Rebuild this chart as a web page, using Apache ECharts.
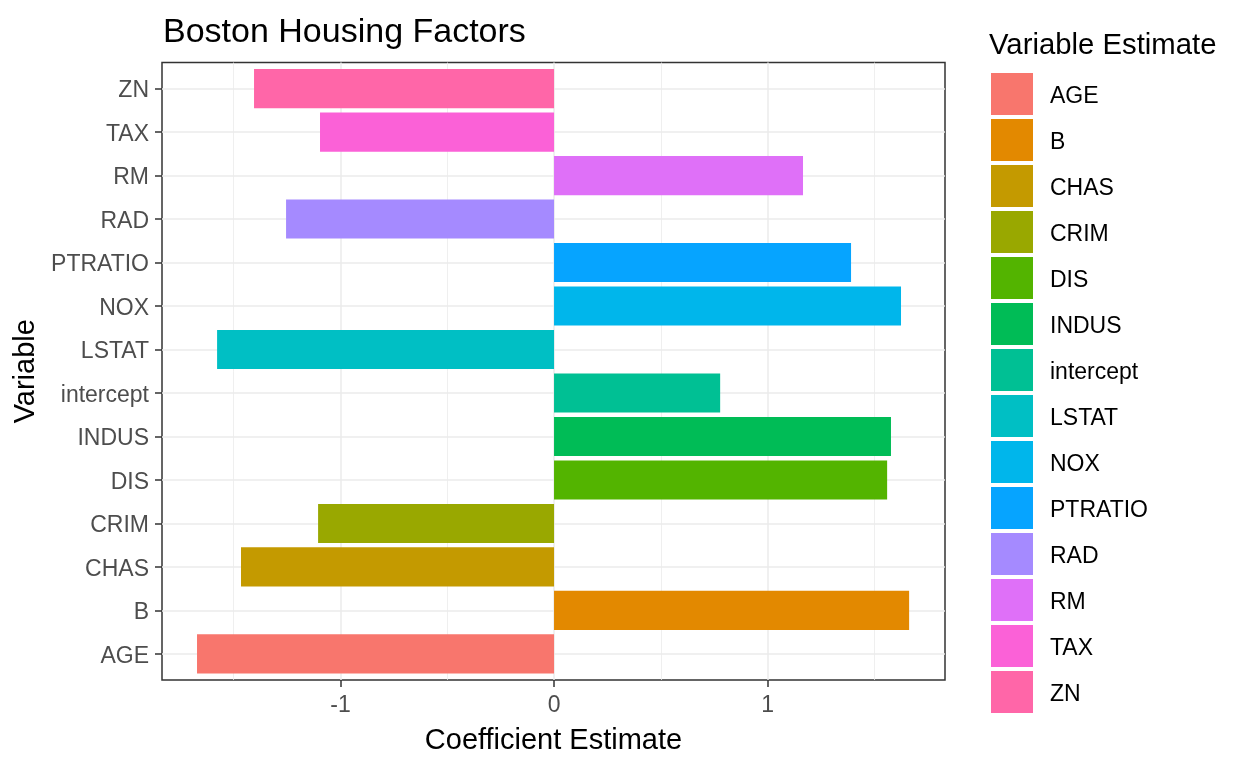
<!DOCTYPE html>
<html>
<head>
<meta charset="utf-8">
<script src="https://cdn.jsdelivr.net/npm/echarts@6/dist/echarts.min.js"></script>
<style>
html,body{margin:0;padding:0;background:#fff;}
#chart{width:1248px;height:768px;}
</style>
</head>
<body>
<div id="chart"></div>
<script>
// Data
const categories = ['AGE','B','CHAS','CRIM','DIS','INDUS','intercept','LSTAT','NOX','PTRATIO','RAD','RM','TAX','ZN'];
const estimates = [-1.672, 1.663, -1.466, -1.105, 1.560, 1.578, 0.778, -1.578, 1.625, 1.391, -1.255, 1.166, -1.096, -1.405];
const xTicks = [-1, 0, 1];
const xMinorTicks = [-1.5, -0.5, 0.5, 1.5];
const palette = ['#F8766D','#E38900','#C49A00','#99A800','#53B400','#00BC56','#00C094','#00BFC4','#00B6EB','#06A4FF','#A58AFF','#DF70F8','#FB61D7','#FF66A8'];

const xMin = -1.836, xMax = 1.831;
const FONT = '"Liberation Sans", Arial, sans-serif';

// panel geometry
const panelTop = 62.5, panelBottomPx = 680, panelLeft = 162, panelRight = 945;
const unit = (panelBottomPx - panelTop) / (categories.length + 0.2);
const inset = 0.1 * unit;

const catIdx = categories.map((_, i) => i + 1);

const chart = echarts.init(document.getElementById('chart'), null, {renderer: 'canvas'});

const series = categories.map((c, i) => ({
  type: 'bar',
  name: c,
  xAxisIndex: 2,
  yAxisIndex: 1,
  stack: 'all',
  barWidth: '90%',
  data: categories.map((_, j) => j === i ? estimates[i] : '-'),
  itemStyle: {color: palette[i]},
  emphasis: {disabled: true}
}));

chart.setOption({
  animation: false,
  backgroundColor: '#fff',
  textStyle: {fontFamily: FONT},
  title: [
    {text: 'Boston Housing Factors', left: 158, top: 11,
     textStyle: {fontFamily: FONT, fontSize: 34, fontWeight: 'normal', color: '#000'}},
    {text: 'Variable Estimate', left: 984, top: 26,
     textStyle: {fontFamily: FONT, fontSize: 29.3, fontWeight: 'normal', color: '#000'}}
  ],
  legend: {
    data: categories,
    orient: 'vertical',
    left: 991, top: 73,
    padding: 0,
    itemWidth: 42, itemHeight: 42, itemGap: 4,
    icon: 'rect',
    selectedMode: false,
    formatter: '{t|{name}}',
    textStyle: {fontFamily: FONT, fontSize: 23, color: '#000',
      rich: {t: {fontFamily: FONT, fontSize: 23, color: '#000', padding: [6, 0, 0, 12]}}}
  },
  grid: [
    {left: panelLeft, right: 1248 - panelRight, top: panelTop, bottom: 768 - panelBottomPx,
     show: true, borderColor: '#333333', borderWidth: 1.5, backgroundColor: '#fff', containLabel: false},
    {left: panelLeft, right: 1248 - panelRight, top: panelTop + inset, bottom: 768 - panelBottomPx + inset,
     show: false, containLabel: false}
  ],
  xAxis: [
    {type: 'value', gridIndex: 0, min: xMin, max: xMax, position: 'bottom',
     name: 'Coefficient Estimate', nameLocation: 'middle', nameGap: 46,
     nameTextStyle: {fontFamily: FONT, fontSize: 29, color: '#000'},
     axisLine: {show: false, onZero: false},
     axisTick: {show: true, customValues: xTicks, length: 7, lineStyle: {color: '#333333', width: 1.5}},
     axisLabel: {customValues: xTicks, fontFamily: FONT, fontSize: 23, color: '#4D4D4D', margin: 14},
     splitLine: {show: true, lineStyle: {color: '#EBEBEB', width: 1.5}}},
    {type: 'value', gridIndex: 0, min: xMin, max: xMax, position: 'bottom',
     axisLine: {show: false, onZero: false},
     axisTick: {show: false, customValues: xMinorTicks},
     axisLabel: {show: false, customValues: xMinorTicks},
     splitLine: {show: true, lineStyle: {color: '#EBEBEB', width: 0.8}}},
    {type: 'value', gridIndex: 1, min: xMin, max: xMax, show: false}
  ],
  yAxis: [
    {type: 'value', gridIndex: 0, min: 0.4, max: categories.length + 0.6, position: 'left',
     name: 'Variable', nameLocation: 'middle', nameGap: 116, nameRotate: 90,
     nameTextStyle: {fontFamily: FONT, fontSize: 29, color: '#000'},
     axisLine: {show: false, onZero: false},
     axisTick: {show: true, customValues: catIdx, length: 7, lineStyle: {color: '#333333', width: 1.5}},
     axisLabel: {customValues: catIdx, fontFamily: FONT, fontSize: 23, color: '#4D4D4D', margin: 13,
                 formatter: v => '{t|' + categories[Math.round(v) - 1] + '}',
                 rich: {t: {fontFamily: FONT, fontSize: 23, color: '#4D4D4D', padding: [5, 0, 0, 0]}}},
     splitLine: {show: true, lineStyle: {color: '#EBEBEB', width: 1.5}}},
    {type: 'category', gridIndex: 1, data: categories, show: false}
  ],
  series: series
});
</script>
</body>
</html>
